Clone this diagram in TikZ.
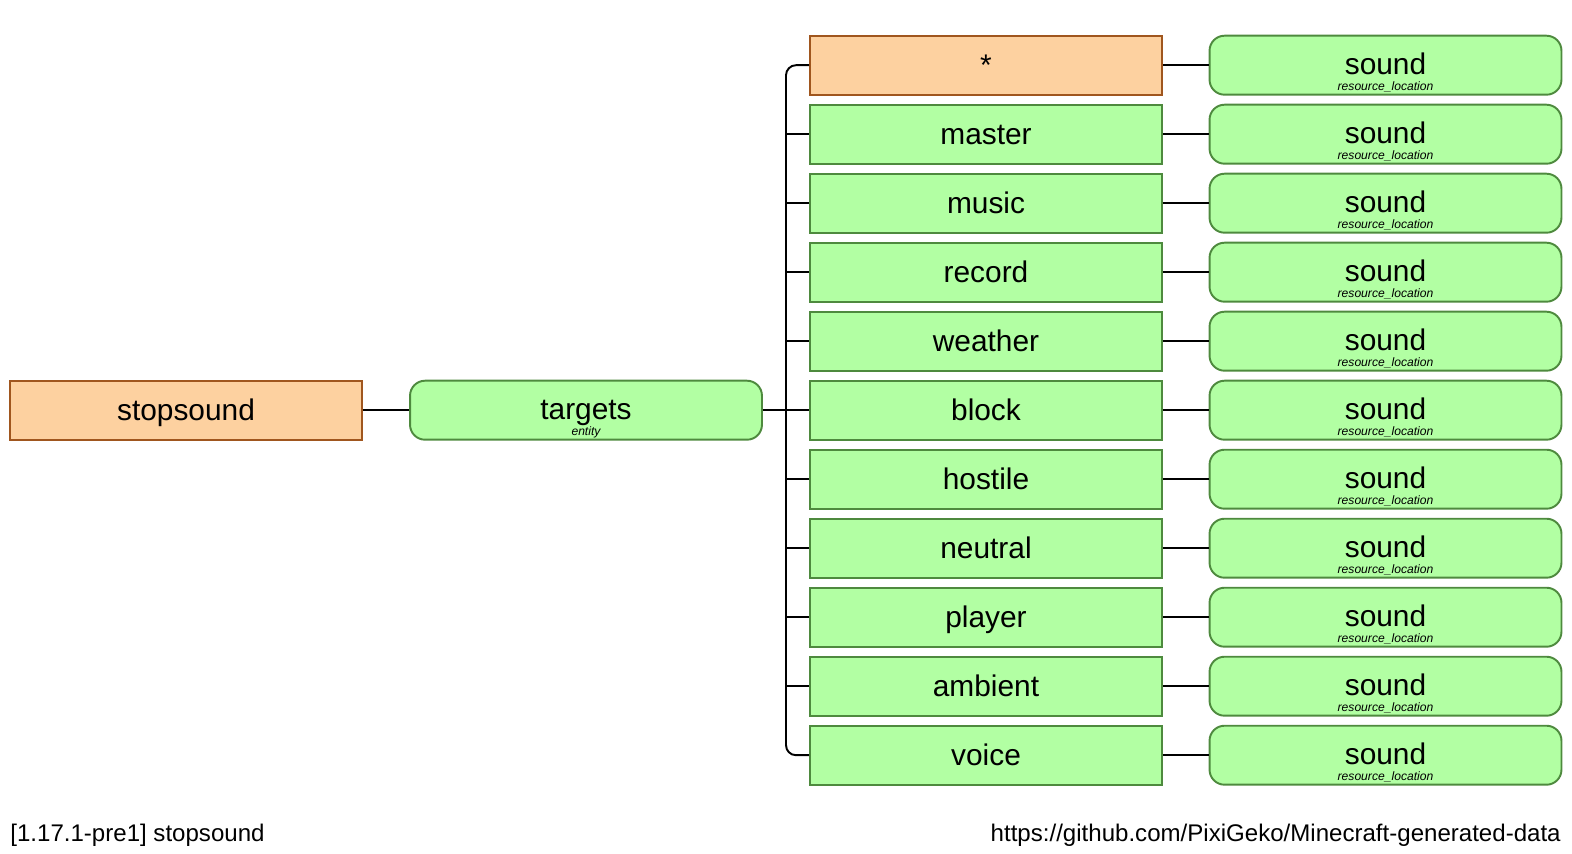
\documentclass[tikz,border=0pt]{standalone}
\usepackage{fontspec}
\setmainfont{Liberation Sans}
\definecolor{litfill}{HTML}{FDD1A0}
\definecolor{litdraw}{HTML}{A0561E}
\definecolor{argfill}{HTML}{B2FFA3}
\definecolor{argdraw}{HTML}{4E8A3E}
\tikzset{
  box/.style={minimum width=7.04cm, minimum height=1.18cm, inner sep=0pt,
    line width=1.1pt, text height=0.5cm, text depth=0.1cm,
    font=\fontsize{17}{18}\selectfont},
  orangebox/.style={box, draw=litdraw, fill=litfill},
  greenbox/.style={box, draw=argdraw, fill=argfill},
  roundbox/.style={greenbox, rounded corners=0.3cm, text depth=0.12cm},
  subtext/.style={anchor=base, yshift=0.11cm, inner sep=0pt,
    text height=, text depth=, font=\fontsize{6.9}{7}\selectfont\itshape},
  wire/.style={line width=1.1pt, black},
  footer/.style={inner sep=0pt, font=\fontsize{13.7}{15}\selectfont}
}

\begin{document}
\begin{tikzpicture}[x=0.02cm, y=-0.02cm]
  \useasboundingbox (0,0) rectangle (1572,853);
  \node[orangebox] (cmd) at (186,410.2) {stopsound};
  \node[roundbox, label={[subtext]south:entity}] (targets) at (586,410.2) {targets};
  \node[orangebox] (r1) at (986,65.2) {*};
  \foreach \name [count=\i from 2] in {master,music,record,weather,block,hostile,neutral,player,ambient,voice}
    \node[greenbox] (r\i) at (986,{65.2+(\i-1)*69}) {\name};
  \foreach \i in {1,...,11}
    \node[roundbox, label={[subtext]south:resource\_location}] (s\i) at (1385.5,{65.2+(\i-1)*69}) {sound};
  \coordinate (bus) at (786,410.2);
  \draw[wire] (cmd.east) -- (targets.west);
  \draw[wire] (targets.east) -- (r6.west);
  \draw[wire, rounded corners=0.2cm] (r1.west) -| (bus) |- (r11.west);
  \foreach \i in {2,...,10}
    \draw[wire] (bus |- r\i.west) -- (r\i.west);
  \foreach \i in {1,...,11}
    \draw[wire] (r\i.east) -- (s\i.west);
  \node[footer, anchor=base west] (version) at (10,841) {[1.17.1-pre1] stopsound};
  \node[footer, anchor=base east] (source) at (1561,841) {https://github.com/PixiGeko/Minecraft-generated-data};
\end{tikzpicture}
\end{document}
